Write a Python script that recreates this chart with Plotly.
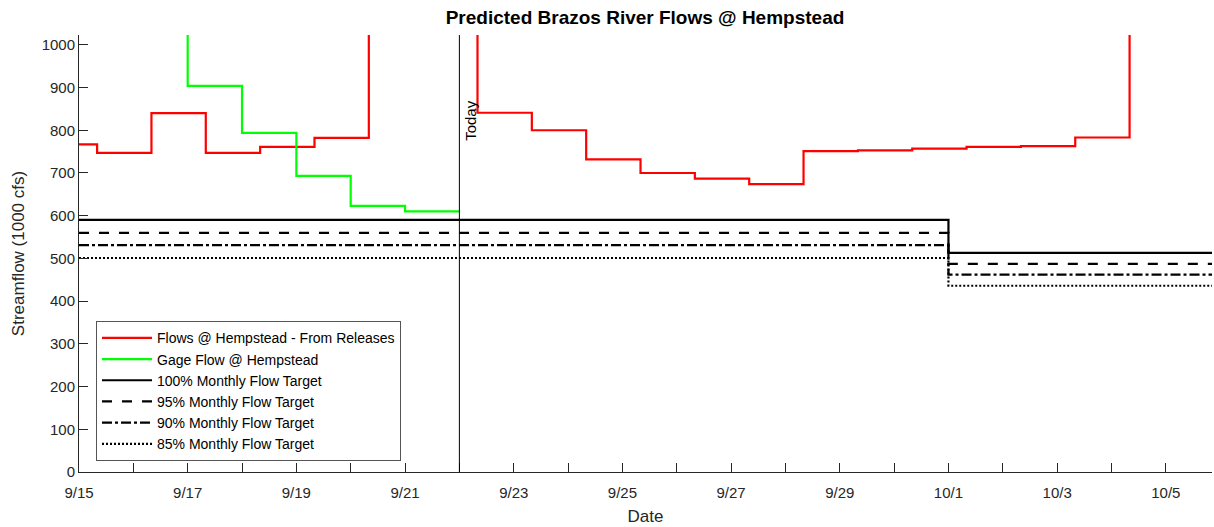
import plotly.graph_objects as go

# Daily release-driven flow forecast at Hempstead (1000 cfs); values above
# the axis top are clipped by the plot area.
release_times = [
    "2016-09-14 08:00", "2016-09-15 08:00", "2016-09-16 08:00", "2016-09-17 08:00",
    "2016-09-18 08:00", "2016-09-19 08:00", "2016-09-20 08:00", "2016-09-21 08:00",
    "2016-09-22 08:00", "2016-09-23 08:00", "2016-09-24 08:00", "2016-09-25 08:00",
    "2016-09-26 08:00", "2016-09-27 08:00", "2016-09-28 08:00", "2016-09-29 08:00",
    "2016-09-30 08:00", "2016-10-01 08:00", "2016-10-02 08:00", "2016-10-03 08:00",
    "2016-10-04 08:00", "2016-10-05 08:00", "2016-10-06 08:00",
]
release_flows = [
    767, 747, 840, 747,
    761, 782, 1350, 1200,
    841, 800, 732, 700,
    687, 674, 751, 753,
    757, 761, 763, 783,
    1300, 1300, 1300,
]

# Observed gage flow at Hempstead
gage_times = [
    "2016-09-15", "2016-09-16", "2016-09-17", "2016-09-18",
    "2016-09-19", "2016-09-20", "2016-09-21", "2016-09-22",
]
gage_flows = [1180, 1060, 904, 794, 693, 623, 610, 610]

# Monthly flow targets (September, then October)
target_times = ["2016-09-15", "2016-10-01", "2016-10-06"]
target_100 = [590, 513, 513]
target_95 = [560, 487, 487]
target_90 = [531, 462, 462]
target_85 = [501, 436, 436]

today = "2016-09-22"

tick_dates = [
    "2016-09-15", "2016-09-16", "2016-09-17", "2016-09-18", "2016-09-19",
    "2016-09-20", "2016-09-21", "2016-09-22", "2016-09-23", "2016-09-24",
    "2016-09-25", "2016-09-26", "2016-09-27", "2016-09-28", "2016-09-29",
    "2016-09-30", "2016-10-01", "2016-10-02", "2016-10-03", "2016-10-04",
    "2016-10-05",
]
tick_labels = [
    "9/15", "", "9/17", "", "9/19", "", "9/21", "", "9/23", "", "9/25", "",
    "9/27", "", "9/29", "", "10/1", "", "10/3", "", "10/5",
]

FONT = "Liberation Sans, Arial, Helvetica, sans-serif"
AXIS_COLOR = "#262626"

fig = go.Figure()

fig.add_trace(go.Scatter(
    x=release_times, y=release_flows, mode="lines", line_shape="hv",
    line=dict(color="#ff0000", width=2.2),
    name="Flows @ Hempstead - From Releases",
))
fig.add_trace(go.Scatter(
    x=gage_times, y=gage_flows, mode="lines", line_shape="hv",
    line=dict(color="#00ff00", width=2.2),
    name="Gage Flow @ Hempstead",
))

targets = [
    ("100% Monthly Flow Target", target_100, "solid"),
    ("95% Monthly Flow Target", target_95, "10px,10px"),
    ("90% Monthly Flow Target", target_90, "10px,3px,3px,3px"),
    ("85% Monthly Flow Target", target_85, "2px,2px"),
]
for name, vals, dash in targets:
    fig.add_trace(go.Scatter(
        x=target_times, y=vals, mode="lines", line_shape="hv",
        line=dict(color="#000000", width=2.2, dash=dash),
        name=name,
    ))

# "Today" marker
fig.add_shape(
    type="line", xref="x", yref="y domain",
    x0=today, x1=today, y0=0, y1=1,
    line=dict(color="#000000", width=1),
)
fig.add_annotation(
    x=today, y=823, xref="x", yref="y", text="Today", showarrow=False,
    textangle=-90, xanchor="center", yanchor="middle", xshift=11,
    font=dict(family=FONT, size=15, color="#000000"),
)

fig.update_layout(
    width=1214, height=527,
    margin=dict(l=79, r=2, t=35, b=55),
    paper_bgcolor="white", plot_bgcolor="white",
    font=dict(family=FONT, color=AXIS_COLOR),
    title=dict(
        text="<b>Predicted Brazos River Flows @ Hempstead</b>",
        x=0.5313, xanchor="center", y=0.968, yanchor="middle",
        xref="container", yref="container",
        font=dict(family=FONT, size=19, color="#000000"),
    ),
    showlegend=True,
    legend=dict(
        x=0.015, y=0.345, xanchor="left", yanchor="top",
        bgcolor="white", bordercolor="#555555", borderwidth=1,
        font=dict(family=FONT, size=14, color="#000000"),
        itemwidth=50, traceorder="normal",
    ),
)

fig.update_xaxes(
    type="date",
    range=["2016-09-15", "2016-10-05 20:24"],
    tickmode="array", tickvals=tick_dates, ticktext=tick_labels,
    ticks="inside", ticklen=9, tickwidth=1, tickcolor=AXIS_COLOR,
    ticklabelstandoff=7,
    showline=True, linecolor=AXIS_COLOR, linewidth=1,
    showgrid=False, zeroline=False,
    tickfont=dict(family=FONT, size=15, color=AXIS_COLOR),
    title=dict(text="Date", font=dict(family=FONT, size=17, color=AXIS_COLOR), standoff=10),
)
fig.update_yaxes(
    range=[0, 1023], tick0=0, dtick=100,
    ticks="inside", ticklen=9, tickwidth=1, tickcolor=AXIS_COLOR,
    showline=True, linecolor=AXIS_COLOR, linewidth=1,
    showgrid=False, zeroline=False,
    tickfont=dict(family=FONT, size=15, color=AXIS_COLOR),
    title=dict(text="Streamflow (1000 cfs)", font=dict(family=FONT, size=17, color=AXIS_COLOR), standoff=12),
)

fig.write_html("out.html")
